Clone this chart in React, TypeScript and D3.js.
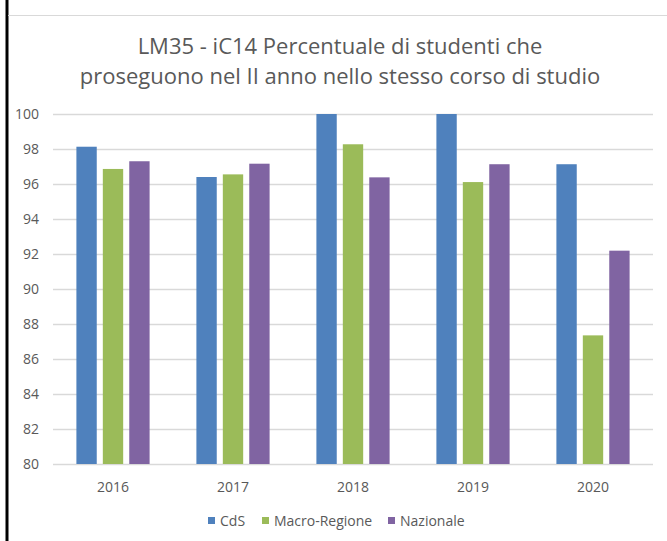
import React, { useEffect, useRef } from "react";
import * as d3 from "d3";

const years = ["2016", "2017", "2018", "2019", "2020"];
const seriesNames = ["CdS", "Macro-Regione", "Nazionale"];
const cdsValues = [98.13, 96.4, 100, 100, 97.13];
const macroValues = [96.86, 96.55, 98.27, 96.11, 87.35];
const nazionaleValues = [97.3, 97.16, 96.38, 97.13, 92.19];
const yTicks = [80, 82, 84, 86, 88, 90, 92, 94, 96, 98, 100];
const titleLines = [
  "LM35 - iC14 Percentuale di studenti che",
  "proseguono nel II anno nello stesso corso di studio",
];
const colors = ["#4F81BD", "#9BBB59", "#8064A2"];

const App = () => {
  const svgRef = useRef<SVGSVGElement>(null);

  useEffect(() => {
    document.body.style.margin = "0";
    const svg = d3.select(svgRef.current);
    svg.selectAll("*").remove();

    const width = 667;
    const height = 541;
    const font = "'Open Sans', 'Noto Sans', sans-serif";
    const textColor = "#595959";

    // white background
    svg.append("rect").attr("width", width).attr("height", height).attr("fill", "#fff");

    // frame bits from the screenshot: black left border + gray top line
    svg.append("line")
      .attr("x1", 7).attr("x2", 7).attr("y1", 0).attr("y2", height)
      .attr("stroke", "#000").attr("stroke-width", 3);
    svg.append("line")
      .attr("x1", 8).attr("x2", width).attr("y1", 15.5).attr("y2", 15.5)
      .attr("stroke", "#d9d9d9").attr("stroke-width", 1);

    // title
    svg.selectAll(".title")
      .data(titleLines)
      .enter()
      .append("text")
      .attr("class", "title")
      .attr("x", 340)
      .attr("y", (d, i) => 54 + i * 30)
      .attr("text-anchor", "middle")
      .attr("font-family", font)
      .attr("font-size", 22)
      .attr("fill", textColor)
      .text((d) => d);

    const margin = { left: 53, right: 14, top: 114, bottom: 77 };

    const x0 = d3.scaleBand()
      .domain(years)
      .range([margin.left, width - margin.right])
      .paddingInner(0.39)
      .paddingOuter(0.195);

    const x1 = d3.scaleBand()
      .domain(seriesNames)
      .range([0, x0.bandwidth()])
      .paddingInner(0.23);

    const y = d3.scaleLinear().domain([80, 100]).range([height - margin.bottom, margin.top]);

    // gridlines
    svg.selectAll(".grid")
      .data(yTicks)
      .enter()
      .append("line")
      .attr("x1", margin.left)
      .attr("x2", width - margin.right)
      .attr("y1", (d) => Math.round(y(d)) + 0.5)
      .attr("y2", (d) => Math.round(y(d)) + 0.5)
      .attr("stroke", "#d9d9d9")
      .attr("stroke-width", 1.3);

    // y labels
    svg.selectAll(".ylab")
      .data(yTicks)
      .enter()
      .append("text")
      .attr("x", 39)
      .attr("y", (d) => y(d))
      .attr("dy", "0.35em")
      .attr("text-anchor", "end")
      .attr("font-family", font)
      .attr("font-size", 14)
      .attr("fill", textColor)
      .text((d) => d);

    const table = years.map((yr, i) => ({
      year: yr,
      values: [cdsValues[i], macroValues[i], nazionaleValues[i]],
    }));

    // bars
    const groups = svg.selectAll(".group")
      .data(table)
      .enter()
      .append("g")
      .attr("transform", (d) => `translate(${x0(d.year)},0)`);

    groups.selectAll("rect")
      .data((d) => d.values.map((v, j) => ({ name: seriesNames[j], value: v, j })))
      .enter()
      .append("rect")
      .attr("x", (d) => x1(d.name)!)
      .attr("y", (d) => y(d.value))
      .attr("width", x1.bandwidth())
      .attr("height", (d) => y(80) - y(d.value))
      .attr("fill", (d) => colors[d.j]);

    // x labels
    svg.selectAll(".xlab")
      .data(years)
      .enter()
      .append("text")
      .attr("x", (d) => x0(d)! + x0.bandwidth() / 2)
      .attr("y", 492)
      .attr("text-anchor", "middle")
      .attr("font-family", font)
      .attr("font-size", 14)
      .attr("fill", textColor)
      .text((d) => d);

    // legend
    const legendX = [208, 262, 388];
    const legend = svg.selectAll(".legend")
      .data(seriesNames)
      .enter()
      .append("g")
      .attr("transform", (d, i) => `translate(${legendX[i]},521)`);
    legend.append("rect")
      .attr("x", 0).attr("y", -4)
      .attr("width", 7).attr("height", 7)
      .attr("fill", (d, i) => colors[i]);
    legend.append("text")
      .attr("x", 12)
      .attr("y", 0)
      .attr("dy", "0.35em")
      .attr("font-family", font)
      .attr("font-size", 14)
      .attr("fill", textColor)
      .text((d) => d);
  }, []);

  return <svg ref={svgRef} width={667} height={541} style={{ display: "block" }}></svg>;
};

export default App;
